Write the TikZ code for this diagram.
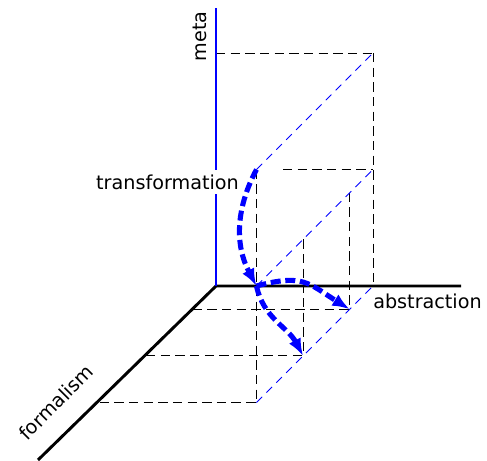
\documentclass[tikz,border=0pt]{standalone}
\usepackage{fontspec}
\setmainfont{DejaVu Sans}
\usetikzlibrary{arrows.meta}
\begin{document}
\begin{tikzpicture}[x=0.75pt,y=0.75pt,
  guide/.style={draw=black, line width=0.75pt, dash pattern=on 7pt off 4pt},
  bguide/.style={draw=blue, line width=0.6pt, dash pattern=on 6pt off 4.5pt},
  axisline/.style={line width=2.2pt},
  move/.style={draw=blue, line width=3.8pt, dash pattern=on 7.5pt off 3.5pt, -{Latex[length=13pt,width=10pt]}},
  lbl/.style={font=\fontsize{14.4}{17}\selectfont, inner sep=0pt}]
\useasboundingbox (0,0) rectangle (487,-461);
% axes origin and ends
\coordinate (O) at (216,-286);
\coordinate (xe) at (461,-286);
\coordinate (ye) at (216,-8);
\coordinate (ze) at (38,-460);
% ground plane points (Y=0)
\coordinate (a0) at (373,-286);
\coordinate (a1) at (349.7,-309.3);
\coordinate (a3) at (303.1,-355.9);
\coordinate (a5) at (256.5,-402.5);
% middle level points
\coordinate (b0) at (373,-169.5);
\coordinate (b1) at (349.7,-192.8);
\coordinate (b3) at (303.1,-239.4);
\coordinate (b5) at (256.5,-286);
\coordinate (h) at (283,-169.5);
% top level points
\coordinate (c0) at (373,-53);
\coordinate (c5) at (256.5,-169.5);
\coordinate (m2) at (216,-53);
% formalism axis points
\coordinate (f1) at (192.7,-309.3);
\coordinate (f3) at (146.1,-355.9);
\coordinate (f5) at (99.5,-402.5);
% black dashed guides
\draw[guide] (m2) -- (c0);
\draw[guide] (c0) -- (a0);
\draw[guide] (h) -- (b0);
\draw[guide] (c5) -- (a5);
\draw[guide] (b3) -- (a3);
\draw[guide] (b1) -- (a1);
\draw[guide] (f1) -- (a1);
\draw[guide] (f3) -- (a3);
\draw[guide] (f5) -- (a5);
% blue dashed diagonals
\draw[bguide] (c5) -- (c0);
\draw[bguide] (b5) -- (b0);
\draw[bguide] (a5) -- (a0);
% axes
\draw[axisline] (xe) -- (O) -- (ze);
\draw[axisline, blue] (O) -- (ye);
% labels
\node[lbl, anchor=base, rotate=90] (lmeta) at (206,-36.5) {meta};
\node[lbl, anchor=base] (labs) at (427.5,-308) {abstraction};
\node[lbl, anchor=base, rotate=45] (lform) at (61,-407.5) {formalism};
\node[lbl, anchor=base, fill=white, inner sep=3.33pt] (ltrans) at (167.5,-189.5) {transformation};
% movement arrows
\draw[move] (c5) to[bend right=28] (b5);
\draw[move] (b5) to[out=15, in=148, looseness=1.3] (a1);
\draw[move] (b5) to[out=-78, in=118] (a3);
\end{tikzpicture}
\end{document}
